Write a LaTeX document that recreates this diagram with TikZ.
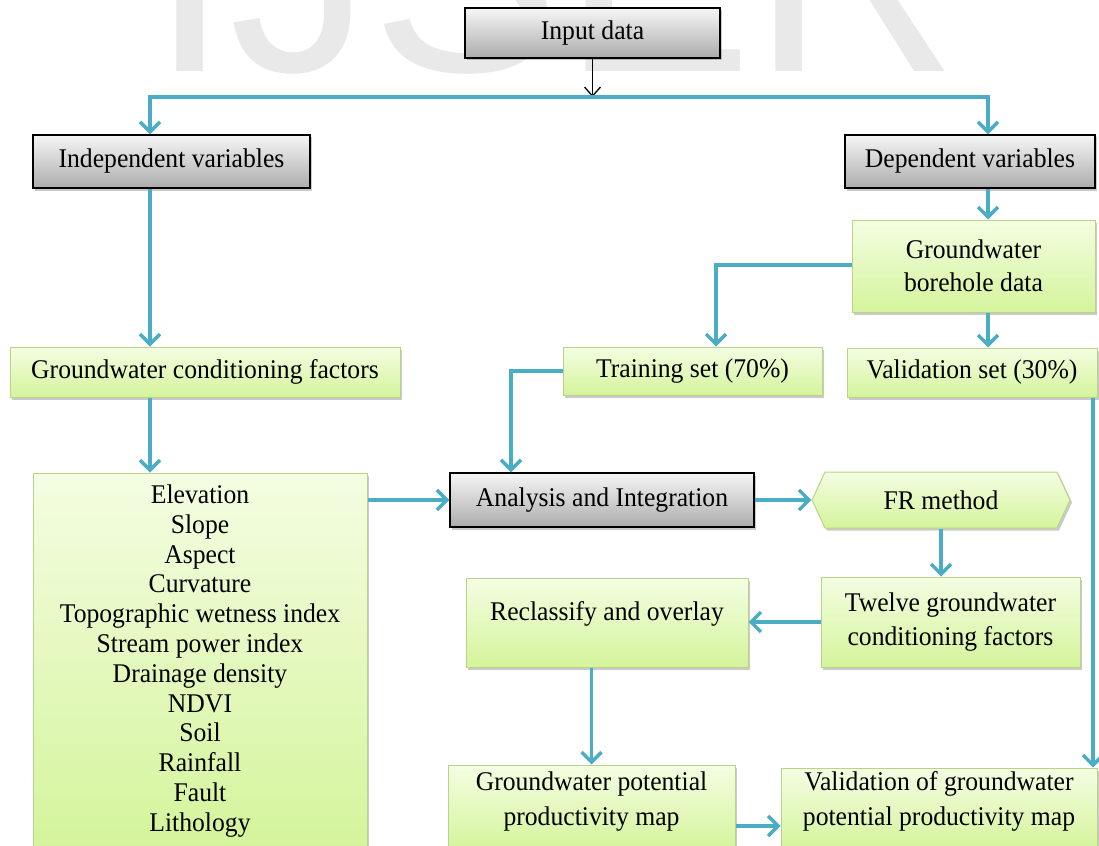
\documentclass[tikz,border=0pt]{standalone}
\usepackage{fontspec}
\setmainfont{Liberation Serif}[FakeStretch=0.95]
\newfontfamily\wmfont{Liberation Sans}
\usetikzlibrary{arrows.meta,shadows,shapes.symbols}
\definecolor{flowblue}{RGB}{75,172,198}
\definecolor{greentop}{RGB}{244,253,226}
\definecolor{greenbot}{RGB}{212,244,155}
\definecolor{greenline}{RGB}{185,212,135}
\definecolor{graytop}{RGB}{246,246,246}
\definecolor{graybot}{RGB}{172,172,172}
\newcommand{\liftup}[2]{\raisebox{#1}[\height][\depth]{#2}}
\begin{document}
\begin{tikzpicture}[x=1pt, y=-1pt, inner sep=2pt,
   font=\fontsize{27}{29.8}\selectfont,
   boxshadow/.style={drop shadow={shadow xshift=2pt, shadow yshift=-2.5pt, opacity=.35, fill=black!60}},
   greybox/.style={draw=black, line width=1.3pt, top color=graytop, bottom color=graybot, boxshadow},
   greenbox/.style={draw=greenline, line width=1pt, top color=greentop, bottom color=greenbot, boxshadow},
   flow/.style={draw=flowblue, line width=3.5pt, >={Straight Barb[length=10pt,width=20pt]}, ->},
   ]
   \useasboundingbox (0,0) rectangle (1099,845);
   % watermark
   \node[anchor=base west, inner sep=0pt, text=gray!17, font=\wmfont\fontsize{285}{285}\selectfont] (WM) at (150,72) {IJSER};

   \node[greybox, minimum width=255pt, minimum height=50pt] (In) at (592.5,33) {Input data};
   \node[greybox, minimum width=277pt, minimum height=53pt] (IV) at (171.5,161.5) {Independent variables};
   \node[greybox, minimum width=250pt, minimum height=53pt] (DV) at (970,161.5) {Dependent variables};
   \node[greenbox, minimum width=243pt, minimum height=92pt, align=center] (GB) at (973.5,266) {Groundwater\\[3pt]borehole data};
   \node[greenbox, minimum width=390pt, minimum height=50pt] (GC) at (205,372) {Groundwater conditioning factors};
   \node[greenbox, minimum width=259pt, minimum height=48pt] (TS) at (692.5,371) {Training set (70\%)};
   \node[greenbox, minimum width=250pt, minimum height=49pt] (VS) at (972,372.5) {Validation set (30\%)};
   \node[greenbox, minimum width=334pt, minimum height=376pt, align=center] (FL) at (200,661)
      {Elevation\\Slope\\Aspect\\Curvature\\Topographic wetness index\\Stream power index\\
       Drainage density\\NDVI\\Soil\\Rainfall\\Fault\\Lithology};
   \node[greybox, minimum width=304pt, minimum height=54pt] (AI) at (602,500) {Analysis and Integration};
   \node[greenbox, signal, signal to=west and east, signal pointer angle=130,
      minimum width=258pt, minimum height=56pt] (FR) at (941,500) {FR method};
   \node[greenbox, minimum width=259pt, minimum height=90pt, align=center] (TF) at (950.5,622) {Twelve groundwater\\[4pt]conditioning factors};
   \node[greenbox, minimum width=282pt, minimum height=89pt] (RO) at (607,622.5) {\liftup{9pt}{Reclassify and overlay}};
   \node[greenbox, minimum width=287pt, minimum height=85pt, align=center] (PM) at (591.5,807.5)
      {\liftup{6pt}{Groundwater potential}\\[5pt]\liftup{6pt}{productivity map}};
   \node[greenbox, minimum width=316pt, minimum height=82pt, align=center] (VM) at (939,809)
      {\liftup{7.5pt}{Validation of groundwater}\\[5pt]\liftup{7.5pt}{potential productivity map}};

   % connectors
   \coordinate (bus) at (592,97);
   \coordinate (busL) at (150,97);
   \coordinate (busR) at (988,97);
   \draw[line width=1.3pt, -{Straight Barb[length=9pt,width=16pt]}] (In.south) -- (In.south |- bus);
   \draw[flow, <->] (busL |- IV.north) -- (busL) -- (busR) -- (busR |- DV.north);
   \draw[flow] (busL |- IV.south) -- (busL |- GC.north);
   \draw[flow] (busL |- GC.south) -- (busL |- FL.north);
   \draw[flow] (busR |- DV.south) -- (busR |- GB.north);
   \coordinate (bbend) at (716,265);
   \draw[flow] (GB.west |- bbend) -- (bbend) -- (bbend |- TS.north);
   \draw[flow] (busR |- GB.south) -- (busR |- VS.north);
   \coordinate (tbend) at (511,371);
   \draw[flow] (TS.west) -- (tbend) -- (tbend |- AI.north);
   \coordinate (vline) at (1093,397);
   \draw[flow] (vline |- VS.south) -- (vline |- VM.north);
   \draw[flow] (FL.east |- AI.west) -- (AI.west);
   \draw[flow] (AI.east) -- (FR.west);
   \draw[flow] (FR.south) -- (FR.south |- TF.north);
   \draw[flow] (TF.west) -- (TF.west -| RO.east);
   \draw[flow] (PM.north |- RO.south) -- (PM.north);
   \coordinate (mapy) at (0,826);
   \draw[flow] (PM.east |- mapy) -- (VM.west |- mapy);
\end{tikzpicture}
\end{document}
